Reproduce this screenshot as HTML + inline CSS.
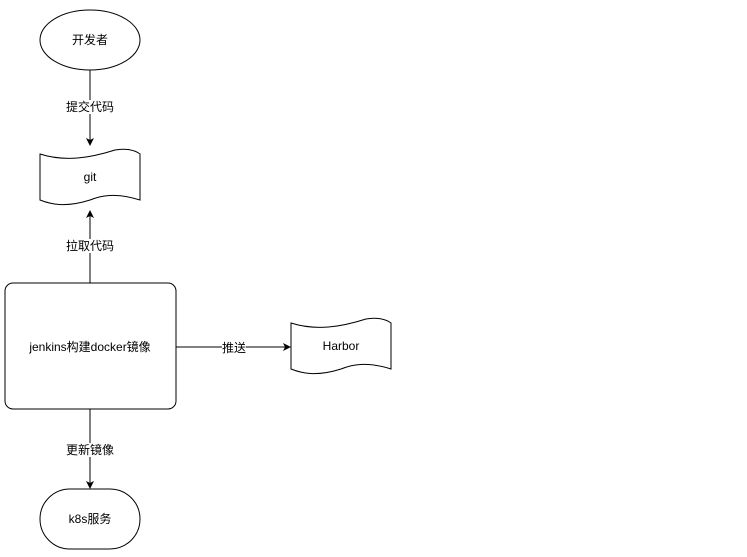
<!DOCTYPE html>
<html><head><meta charset="utf-8"><style>
html,body{margin:0;padding:0;background:#fff;}
svg text{font-family:"Liberation Sans","Noto Sans CJK SC",sans-serif;font-size:12px;fill:#000;}
</style></head><body>
<svg width="747" height="552" xmlns="http://www.w3.org/2000/svg">
<defs><marker id="a" markerWidth="10" markerHeight="10" refX="7" refY="4" orient="auto" markerUnits="userSpaceOnUse"><path d="M0,0 L8,4 L0,8 L2,4 Z" fill="#000"/></marker></defs>
<g stroke="#000" stroke-width="1" fill="#fff">
<ellipse cx="90" cy="40" rx="50" ry="30"/>
<path d="M40,154 C65,162 90,158 115,150 C125,148 135,150 140,154 L140,200 C115,192 100,196 90,200 C65,208 50,204 40,200 Z"/>
<rect x="5" y="283" width="171" height="126" rx="8"/>
<path d="M291,323 C316,331 341,327 366,319 C376,317 386,319 391,323 L391,369 C366,361 351,365 341,369 C316,377 301,373 291,369 Z"/>
<rect x="40" y="489" width="100" height="60" rx="30"/>
<path d="M90,70 V145" marker-end="url(#a)" fill="none"/>
<path d="M90,283 V211" marker-end="url(#a)" fill="none"/>
<path d="M176,347 H290" marker-end="url(#a)" fill="none"/>
<path d="M90,409 V488" marker-end="url(#a)" fill="none"/>
</g>
<rect x="66" y="100" width="48" height="14" fill="#fff"/>
<rect x="66" y="239" width="48" height="14" fill="#fff"/>
<rect x="222" y="341" width="24" height="14" fill="#fff"/>
<rect x="66" y="443" width="48" height="14" fill="#fff"/>
<g text-anchor="middle">
<text x="90" y="44">开发者</text>
<text x="90" y="111" font-size="11">提交代码</text>
<text x="90" y="181">git</text>
<text x="90" y="250" font-size="11">拉取代码</text>
<text x="90" y="351">jenkins构建docker镜像</text>
<text x="234" y="352" font-size="11">推送</text>
<text x="341" y="350">Harbor</text>
<text x="90" y="454" font-size="11">更新镜像</text>
<text x="90" y="523">k8s服务</text>
</g>
</svg>
</body></html>
